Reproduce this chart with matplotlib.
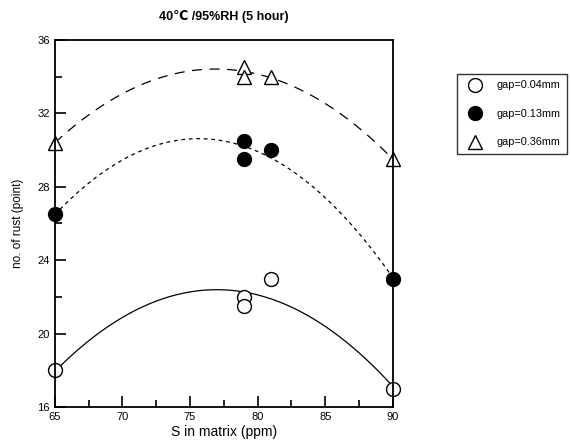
import numpy as np
import matplotlib.pyplot as plt
from matplotlib.ticker import MultipleLocator

plt.rcParams['font.family'] = ['Liberation Sans', 'DejaVu Sans']

s_ppm = [65, 79, 79, 81, 90]
rust_004 = [18, 22, 21.5, 23, 17]
rust_013 = [26.5, 30.5, 29.5, 30, 23]
rust_036 = [30.4, 34.5, 34, 34, 29.5]
labels = ['gap=0.04mm', 'gap=0.13mm', 'gap=0.36mm']

fig = plt.figure(figsize=(5.71, 4.43), dpi=100)
ax = fig.add_axes([0.096, 0.081, 0.592, 0.829])

xs = np.linspace(65, 90, 200)
series = [
    (rust_004, 'o', 'white', (0, ()), labels[0]),
    (rust_013, 'o', 'black', (0, (3, 3)), labels[1]),
    (rust_036, '^', 'white', (0, (8, 6)), labels[2]),
]
handles = []
for y, m, fc, ls, lab in series:
    c = np.polyfit(s_ppm, y, 2)
    ax.plot(xs, np.polyval(c, xs), color='black', lw=0.9, linestyle=ls)
    h, = ax.plot(s_ppm, y, linestyle='none', marker=m, ms=10,
                 mfc=fc, mec='black', mew=1.0, clip_on=False, label=lab)
    handles.append(h)

ax.set_xlim(65, 90)
ax.set_ylim(16, 36)
ax.xaxis.set_major_locator(MultipleLocator(5))
ax.xaxis.set_minor_locator(MultipleLocator(2.5))
ax.yaxis.set_major_locator(MultipleLocator(4))
ax.yaxis.set_minor_locator(MultipleLocator(2))
ax.tick_params(which='both', direction='in', top=False, right=False, labelsize=8, width=1.2)
ax.tick_params(which='major', length=8)
ax.tick_params(which='minor', length=5)
for sp in ax.spines.values():
    sp.set_linewidth(1.3)

ax.set_xlabel('S in matrix (ppm)', fontsize=10, labelpad=2)
ax.set_ylabel('no. of rust (point)', fontsize=8.5, labelpad=10)
ax.set_title('40\u2103 /95%RH (5 hour)', fontsize=9, fontweight='bold', pad=14)

fig.legend(handles=handles, loc='upper left', bbox_to_anchor=(0.800, 0.833),
           borderaxespad=0, fontsize=7.8, frameon=True, fancybox=False,
           edgecolor='black', handletextpad=0.9, labelspacing=1.7,
           borderpad=0.6, handlelength=2.2, markerscale=1.0)

fig.savefig('out.png', dpi=100)
